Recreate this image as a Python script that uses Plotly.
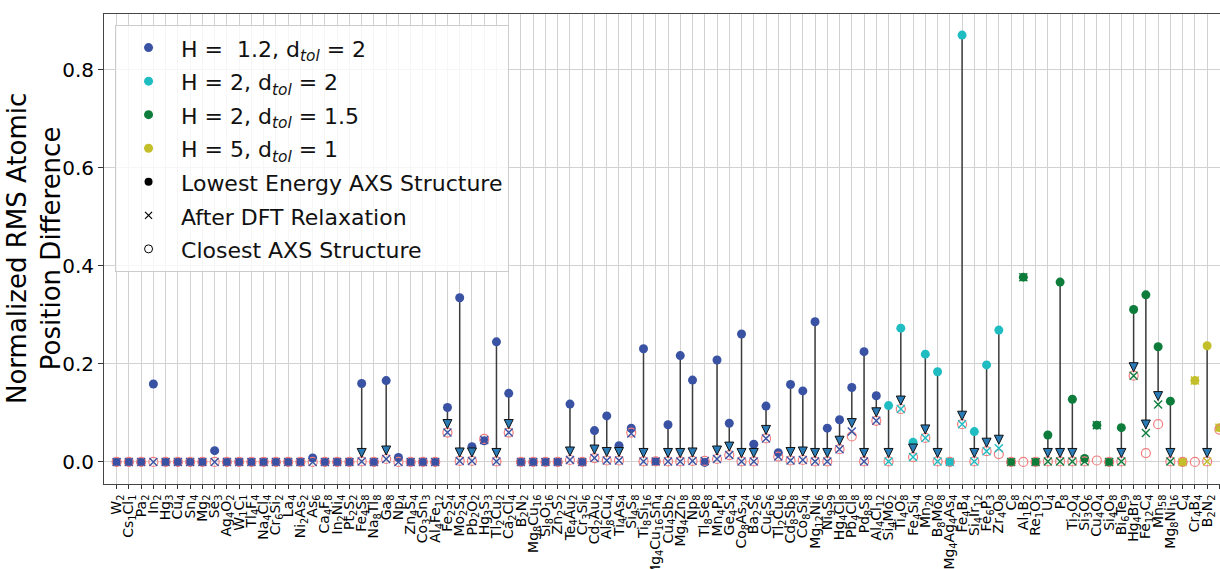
import re
import plotly.graph_objects as go

# ---------------- data ----------------
labels = ["W2", "Cs1Cl1", "Pa2", "In2", "Hg3", "Cu4", "Sn4", "Mg2", "Se3", "Ag4O2",
          "W1C1", "Tl4F4", "Na4Cl4", "Cr6Si2", "La4", "Ni2As2", "As6", "Ca4F8", "In2Ni4", "Pt2S2",
          "Fe4S8", "Na8Tl8", "Ga8", "Np4", "Zn4S4", "Co3Sn3", "Al4Fe12", "Fe2S4", "Mo2S4", "Pb2O2",
          "Hg3S3", "Tl2Cu2", "Ca2Cl4", "B2N2", "Mg8Cu16", "Si8O16", "Zn2S2", "Te4Au2", "Cr3Si6", "Cd2Au2",
          "Al8Cu4", "Ti4As4", "Si4S8", "Ti8Si16", "Mg4Cu16Sn4", "Cu4Sb2", "Mg4Zn8", "Np8", "Tl8Se8", "Mn4P4",
          "Ge4S4", "Co8As24", "Ba2S6", "Cu6S6", "Tl2Cu6", "Cd8Sb8", "Co8Si4", "Mg12Ni6", "Ni9S9", "Hg4Cl8",
          "Pb4Cl8", "Pd8S8", "Al4Cl12", "Si4Mo2", "Ti4O8", "Fe4Si4", "Mn20", "B8Mo8", "Mg4Ag4As4", "Fe4B4",
          "Si4Ir12", "Fe6P3", "Zr4O8", "C8", "Al1B2", "Re1O3", "U4", "P8", "Ti2O4", "Si3O6",
          "Cu4O4", "Si4O8", "Bi6Te9", "Hg4Br8", "Fe12C4", "Mn58", "Mg8Ni16", "C4", "Cr4B4", "B2N2",
          "Bi2Se3"]

# parameter-set index of each structure (0: H=1.2,d=2  1: H=2,d=2  2: H=2,d=1.5  3: H=5,d=1)
group = [0] * 63 + [1] * 10 + [2] * 14 + [3] * 4

lowest_energy = [0, 0, 0, 0.159, 0, 0, 0, 0, 0.023, 0,
                 0, 0, 0, 0, 0, 0, 0.008, 0, 0, 0,
                 0.160, 0, 0.166, 0.009, 0, 0, 0, 0.111, 0.335, 0.031,
                 0.043, 0.245, 0.140, 0, 0, 0, 0, 0.118, 0, 0.064,
                 0.094, 0.033, 0.069, 0.231, 0.001, 0.076, 0.217, 0.167, -0.001, 0.208,
                 0.079, 0.261, 0.036, 0.114, 0.019, 0.158, 0.145, 0.286, 0.069, 0.086,
                 0.152, 0.225, 0.135, 0.115, 0.273, 0.040, 0.220, 0.184, 0, 0.871,
                 0.062, 0.198, 0.269, 0, 0.377, 0, 0.055, 0.367, 0.128, 0.007,
                 0.075, 0, 0.070, 0.311, 0.341, 0.235, 0.124, 0, 0.166, 0.237,
                 0.070]

after_dft = [0, 0, 0, 0, 0, 0, 0, 0, 0, 0,
             0, 0, 0, 0, 0, 0, 0, 0, 0, 0,
             0.001, 0, 0.006, 0, 0, 0, 0, 0.060, 0.002, 0.002,
             0.045, 0.001, 0.060, 0, 0, 0, 0, 0.004, 0, 0.008,
             0.003, 0.003, 0.058, 0.001, 0.001, 0.001, 0.001, 0.002, 0.002, 0.006,
             0.014, 0.001, 0.001, 0.048, 0.011, 0.003, 0.004, 0.001, 0.001, 0.026,
             0.062, 0.001, 0.084, 0.001, 0.108, 0.010, 0.049, 0.001, 0, 0.077,
             0.001, 0.022, 0.028, 0, 0.377, 0, 0.001, 0.001, 0.001, 0.001,
             0.075, 0, 0.001, 0.176, 0.059, 0.117, 0.001, 0, 0.166, 0.001,
             0.070]

closest_axs = [0, 0, 0, 0, 0, 0, 0, 0, 0, 0,
               0, 0, 0, 0, 0, 0, 0, 0, 0, 0,
               0.001, 0, 0.006, 0, 0, 0, 0, 0.060, 0.002, 0.002,
               0.047, 0.001, 0.060, 0, 0, 0, 0, 0.004, 0, 0.008,
               0.003, 0.003, 0.060, 0.001, 0.001, 0.001, 0.001, 0.002, 0.002, 0.006,
               0.014, 0.001, 0.001, 0.048, 0.011, 0.003, 0.004, 0.001, 0.001, 0.026,
               0.052, 0.001, 0.084, 0.001, 0.108, 0.010, 0.049, 0.001, 0, 0.077,
               0.001, 0.022, 0.016, 0, 0, 0, 0.001, 0.001, 0.001, 0.001,
               0.003, 0, 0.001, 0.176, 0.018, 0.077, 0.001, 0, 0, 0.001,
               0.066]

# whether an arrow (lowest energy -> after DFT relaxation) is drawn
has_arrow = [0, 0, 0, 0, 0, 0, 0, 0, 0, 0,
             0, 0, 0, 0, 0, 0, 0, 0, 0, 0,
             1, 0, 1, 0, 0, 0, 0, 1, 1, 1,
             0, 1, 1, 0, 0, 0, 0, 1, 0, 1,
             1, 1, 0, 1, 0, 1, 1, 1, 0, 1,
             1, 1, 1, 1, 0, 1, 1, 1, 1, 1,
             1, 1, 1, 1, 1, 1, 1, 1, 0, 1,
             1, 1, 1, 0, 0, 0, 1, 1, 1, 0,
             0, 0, 1, 1, 1, 1, 1, 0, 0, 1,
             0]

group_names = ["H =  1.2, d<sub><i>tol</i></sub> = 2",
               "H = 2, d<sub><i>tol</i></sub> = 2",
               "H = 2, d<sub><i>tol</i></sub> = 1.5",
               "H = 5, d<sub><i>tol</i></sub> = 1"]
legend_names = ["Lowest Energy AXS Structure", "After DFT Relaxation", "Closest AXS Structure"]
y_title = "Normalized RMS Atomic<br>Position Difference"
group_colors = ["#3a52a3", "#1fbcc2", "#0e7d3c", "#c3bf2b"]
circle_color = "#f27d7d"

# ---------------- layout constants ----------------
W, H = 1220, 569
ML, MR, MT, MB = 104, 0, 14, 85
x_range = [-1.03, 90.05]
y_range = [-0.045, 0.914]
px_per_unit = (H - MT - MB) / (y_range[1] - y_range[0])

idx = list(range(len(labels)))
tick_text = [re.sub(r"(\d+)", r"<sub>\1</sub>", s) for s in labels]


def leg(txt):
    return '<span style="font-size:22px">' + txt + '</span>'


fig = go.Figure()

# arrow shafts
sx, sy = [], []
for i in idx:
    if has_arrow[i]:
        sx += [i, i, None]
        sy += [lowest_energy[i], after_dft[i] + 8 / px_per_unit, None]
fig.add_trace(go.Scatter(x=sx, y=sy, mode="lines", line=dict(color="#3d3d3d", width=1.5),
                         showlegend=False, hoverinfo="skip"))

# lowest energy dots per group
for g in range(4):
    ii = [i for i in idx if group[i] == g]
    fig.add_trace(go.Scatter(
        x=ii, y=[lowest_energy[i] for i in ii], mode="markers", name=leg(group_names[g]),
        marker=dict(symbol="circle", size=9, color=group_colors[g], line=dict(width=0)),
        legendrank=g + 1))

# closest AXS structure (open circles)
fig.add_trace(go.Scatter(
    x=idx, y=closest_axs, mode="markers", showlegend=False,
    marker=dict(symbol="circle-open", size=9, color=circle_color, line=dict(width=1.2, color=circle_color))))

# after DFT relaxation (x) per group
for g in range(4):
    ii = [i for i in idx if group[i] == g]
    fig.add_trace(go.Scatter(
        x=ii, y=[after_dft[i] for i in ii], mode="markers", showlegend=False,
        marker=dict(symbol="x-thin", size=8, color=group_colors[g],
                    line=dict(width=1.4, color=group_colors[g]))))

# arrow heads
ax = [i for i in idx if has_arrow[i]]
ay = [after_dft[i] + 4 / px_per_unit for i in ax]
fig.add_trace(go.Scatter(
    x=ax, y=ay, mode="markers", showlegend=False, hoverinfo="skip",
    marker=dict(symbol="arrow-down", size=9, color="#2a7ab5", line=dict(width=1, color="#111111"))))

# legend-only entries
fig.add_trace(go.Scatter(x=[None], y=[None], mode="markers", name=leg(legend_names[0]),
                         marker=dict(symbol="circle", size=8, color="black"), legendrank=5))
fig.add_trace(go.Scatter(x=[None], y=[None], mode="markers", name=leg(legend_names[1]),
                         marker=dict(symbol="x-thin", size=7, color="black", line=dict(width=1.2, color="black")),
                         legendrank=6))
fig.add_trace(go.Scatter(x=[None], y=[None], mode="markers", name=leg(legend_names[2]),
                         marker=dict(symbol="circle-open", size=8, color="black", line=dict(width=1, color="black")),
                         legendrank=7))

font_family = "DejaVu Sans"
fig.update_layout(
    width=W, height=H,
    margin=dict(l=ML, r=MR, t=MT, b=MB, pad=0, autoexpand=False),
    paper_bgcolor="white", plot_bgcolor="white",
    font=dict(family=font_family, color="black"),
    showlegend=True,
    legend=dict(x=0.0099, y=0.977, xanchor="left", yanchor="top",
                bgcolor="rgba(255,255,255,0.8)", bordercolor="#cccccc", borderwidth=1,
                font=dict(size=23.5, family=font_family, color="#111111"),
                itemwidth=55, tracegroupgap=0, traceorder="normal"),
    xaxis=dict(range=x_range, tickmode="array", tickvals=idx, ticktext=tick_text,
               tickangle=-90, tickfont=dict(size=14, family=font_family), automargin=False,
               showgrid=True, gridcolor="#d2d2d2", gridwidth=1,
               ticks="outside", ticklen=4, tickcolor="#333333",
               showline=True, linecolor="#444444", linewidth=1, mirror=True, zeroline=False),
    yaxis=dict(range=y_range, tickmode="array", tickvals=[0, 0.2, 0.4, 0.6, 0.8],
               ticktext=["0.0", "0.2", "0.4", "0.6", "0.8"],
               tickfont=dict(size=20, family=font_family), automargin=False,
               showgrid=True, gridcolor="#d2d2d2", gridwidth=1,
               ticks="outside", ticklen=5, tickcolor="#333333",
               showline=True, linecolor="#444444", linewidth=1, mirror=True, zeroline=False),
    annotations=[dict(text=y_title, xref="paper", yref="paper", x=0, y=0.5,
                      xanchor="center", yanchor="middle", xshift=-70, textangle=-90,
                      showarrow=False, font=dict(size=26, family=font_family, color="black"))],
)

fig.write_html("out.html")
